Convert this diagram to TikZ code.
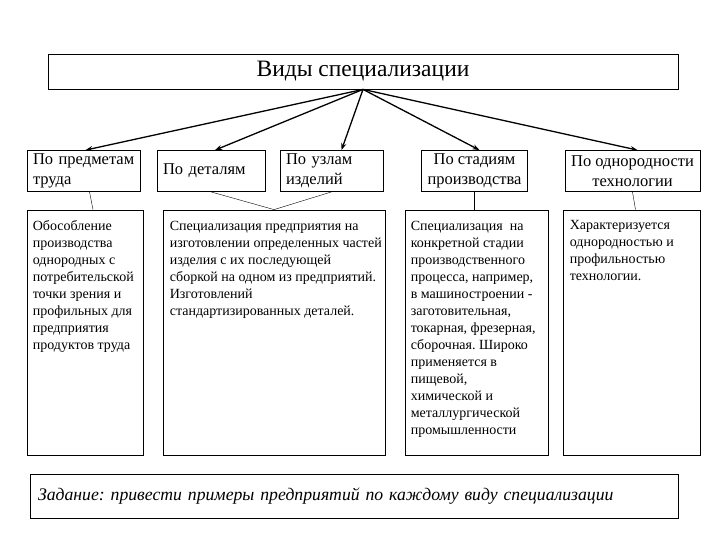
\documentclass[tikz,border=0pt]{standalone}
\usepackage{fontspec}
\setmainfont{Liberation Serif}
\usetikzlibrary{arrows.meta, positioning}

\begin{document}
\frenchspacing
\begin{tikzpicture}[x=1pt, y=-1pt,
        titlebox/.style={draw, thick, minimum width=630pt, minimum height=35pt, font=\fontsize{23.5}{27}\selectfont},
        kindbox/.style={draw, thick, minimum width=#1, minimum height=41pt, inner xsep=6pt, inner ysep=3pt, align=center, font=\fontsize{16.5}{20}\selectfont},
        descbox/.style={draw, thick, minimum width=#1, minimum height=245pt},
        desctext/.style={anchor=north west, align=left, inner sep=0pt, font=\fontsize{14}{17}\selectfont},
        taskbox/.style={draw, thick, minimum height=44pt, inner xsep=8pt, text width=632pt, align=left, font=\fontsize{17.7}{20}\selectfont\itshape},
        arrow/.style={-{Stealth[length=7pt, width=5pt]}, line width=1.3pt},
        link/.style={thin}
    ]
        \useasboundingbox (0,0) rectangle (720,540);

        % --- Root ---
        \node[titlebox] (kinds) at (363, 71.5) {Виды специализации};

        % --- Row 1: kinds of specialisation ---
        \node[kindbox=113pt, text width=101pt, align=left] (subj) at (83.5, 171) {По~предметам\\труда};
        \node[kindbox=108pt, text width=96pt, align=left] (part) at (211, 171) {По~деталям};
        \node[kindbox=103pt, text width=91pt, align=left] (unit) at (331.5, 171) {По~узлам\\изделий};
        \node[kindbox=101pt] (stage) at (474.5, 171) {По стадиям\\производства};
        \node[kindbox=135pt] (tech) at (632.5, 171) {По однородности\\технологии};

        % --- Row 2: descriptions ---
        \node[descbox=116pt] (dsubj) at (85, 332.5) {};
        \node[descbox=222pt] (dpart) at (274, 332.5) {};
        \node[descbox=143pt] (dstage) at (476.5, 332.5) {};
        \node[descbox=137pt] (dtech) at (631.5, 332.5) {};

        \node[desctext] (tsubj) at ([xshift=6pt, yshift=-11pt]dsubj.north west) {Обособление\\производства\\однородных с\\потребительской\\точки зрения и\\профильных для\\предприятия\\продуктов труда};
        \node[desctext] (tpart) at ([xshift=7pt, yshift=-11pt]dpart.north west) {Специализация предприятия на\\изготовлении определенных частей\\изделия с их последующей\\сборкой на одном из предприятий.\\Изготовлений\\стандартизированных деталей.};
        \node[desctext] (tstage) at ([xshift=6pt, yshift=-11pt]dstage.north west) {Специализация\ \ на\\конкретной стадии\\производственного\\процесса, например,\\в машиностроении -\\заготовительная,\\токарная, фрезерная,\\сборочная. Широко\\применяется в\\пищевой,\\химической и\\металлургической\\промышленности};
        \node[desctext] (ttech) at ([xshift=7pt, yshift=-11pt]dtech.north west) {Характеризуется\\однородностью и\\профильностью\\технологии.};

        % --- Task ---
        \node[taskbox] (task) at (354, 496) {Задание: привести примеры предприятий по каждому виду специализации};

        % --- Arrows from root ---
        \draw[arrow] (kinds.south) -- ([xshift=2pt]subj.north);
        \draw[arrow] (kinds.south) -- ([xshift=4pt]part.north);
        \draw[arrow] (kinds.south) -- ([xshift=10pt]unit.north);
        \draw[arrow] (kinds.south) -- ([xshift=5pt]stage.north);
        \draw[arrow] (kinds.south) -- ([xshift=5pt]tech.north);

        % --- Links to descriptions ---
        \draw[link] ([xshift=6pt]subj.south) -- ([xshift=8pt]dsubj.north);
        \draw[link] (part.south) -- (dpart.north);
        \draw[link] (unit.south) -- (dpart.north);
        \draw[link] (stage.south) -- (stage.south |- dstage.north);
        \draw[link] (tech.south) -- ([xshift=4pt]dtech.north);
    \end{tikzpicture}
\end{document}
